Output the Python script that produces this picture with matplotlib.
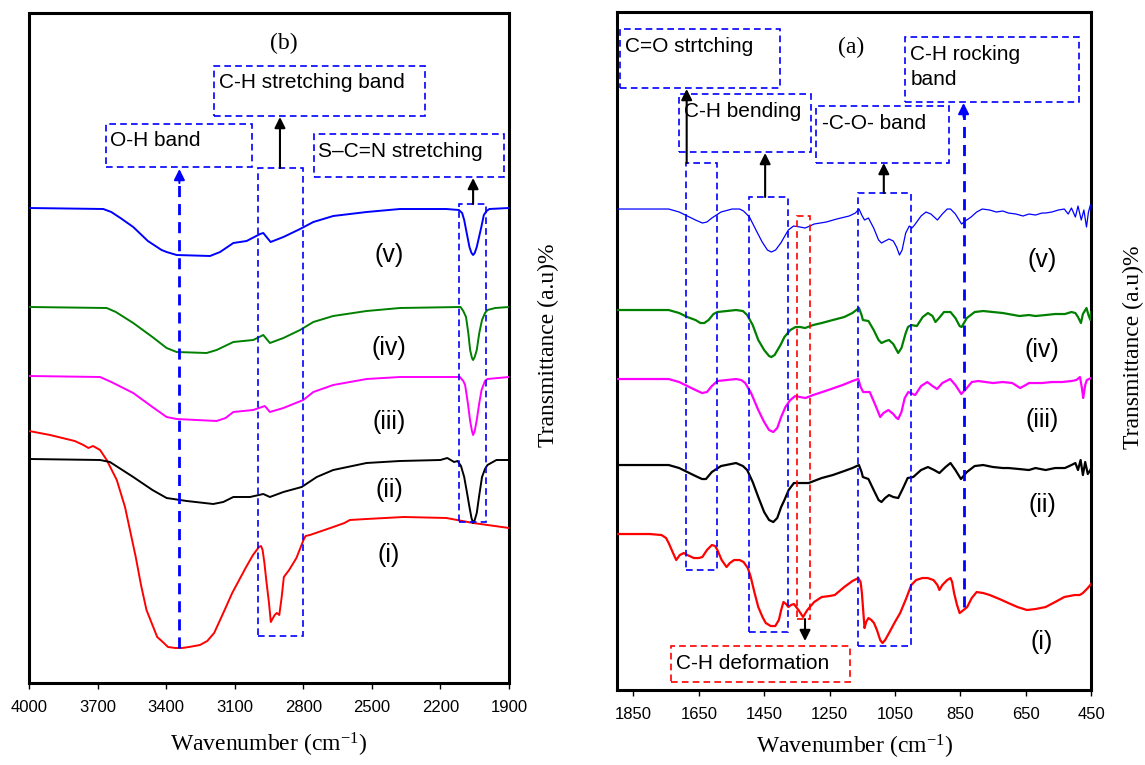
import matplotlib
matplotlib.use("Agg")
import matplotlib.pyplot as plt
from matplotlib.patches import Rectangle

# ---------------- data: panel (b), 4000-1900 cm-1 ----------------
b_v_wn = [4000, 3675, 3640, 3600, 3544, 3480, 3420, 3398, 3354, 3208, 3164, 3106, 3048, 2989, 2975, 2943, 2887,
          2814, 2756, 2669, 2523, 2377, 2174, 2119, 2105, 2096, 2085, 2073, 2064, 2057, 2050, 2041, 2030,
          2021, 2010, 1998, 1986, 1900]
b_v_t = [475, 474, 471, 465, 456, 442, 433, 431, 428, 427, 431, 440, 442, 449, 450, 441, 446,
         454, 461, 467, 471, 474, 474, 473, 470, 463, 450, 436, 430, 428, 430, 436, 447,
         456, 468, 472, 474, 475]

b_iv_wn = [4000, 3660, 3620, 3544, 3460, 3398, 3354, 3223, 3179, 3106, 3019, 2975, 2946, 2887, 2814, 2756,
           2669, 2523, 2377, 2112, 2100, 2088, 2078, 2070, 2062, 2057, 2050, 2041, 2030, 2018, 2005, 1994,
           1960, 1900]
b_iv_t = [376, 375, 371, 360, 346, 335, 331, 330, 333, 341, 343, 348, 340, 345, 353, 361,
          367, 372, 375, 376, 372, 366, 350, 333, 325, 323, 326, 333, 350, 363, 370, 373,
          375, 376]

b_iii_wn = [4000, 3689, 3640, 3544, 3460, 3398, 3354, 3179, 3140, 3106, 3019, 2968, 2946, 2887, 2800, 2756,
            2669, 2523, 2377, 2115, 2100, 2092, 2080, 2070, 2062, 2057, 2050, 2041, 2030, 2020, 2005, 1994,
            1900]
b_iii_t = [307, 306, 301, 290, 276, 266, 264, 262, 265, 271, 273, 277, 271, 275, 283, 291,
           298, 304, 306, 306, 302, 298, 280, 262, 252, 248, 252, 263, 280, 293, 302, 304,
           306]

b_ii_wn = [4000, 3689, 3646, 3544, 3460, 3398, 3310, 3194, 3150, 3106, 3033, 2975, 2946, 2887, 2807, 2741,
           2669, 2523, 2377, 2200, 2170, 2140, 2125, 2110, 2096, 2085, 2073, 2064, 2057, 2050, 2041, 2030,
           2018, 2005, 1994, 1955, 1900]
b_ii_t = [224, 223, 221, 206, 193, 185, 182, 179, 181, 186, 186, 189, 186, 191, 196, 206,
          213, 220, 222, 223, 225, 221, 222, 217, 206, 192, 176, 165, 160, 163, 170, 188,
          206, 214, 218, 223, 223]

b_i_wn = [4000, 3908, 3800, 3762, 3740, 3720, 3689, 3660, 3616, 3580, 3533, 3510, 3486, 3460, 3439, 3410,
          3392, 3360, 3330, 3300, 3252, 3220, 3190, 3150, 3111, 3050, 3020, 2994, 2985, 2978, 2970, 2962,
          2950, 2942, 2935, 2925, 2916, 2905, 2895, 2885, 2862, 2830, 2799, 2790, 2771, 2720, 2669, 2620,
          2596, 2523, 2361, 2174, 2057, 1900]
b_i_t = [252, 248, 242, 238, 235, 237, 233, 223, 203, 176, 126, 98, 73, 58, 46, 40,
         36, 35, 35, 36, 38, 42, 50, 70, 90, 116, 128, 136, 137, 133, 120, 103,
         80, 61, 64, 68, 70, 68, 85, 106, 113, 125, 143, 147, 148, 152, 156, 160,
         163, 164, 166, 165, 160, 155]

# ---------------- data: panel (a), 1900-450 cm-1 ----------------
a_v_wn = [1900, 1800, 1742, 1710, 1685, 1660, 1639, 1625, 1610, 1582, 1548, 1525, 1513, 1495, 1475, 1456,
          1440, 1428, 1415, 1399, 1385, 1376, 1360, 1340, 1325, 1310, 1297, 1260, 1228, 1190, 1171, 1160,
          1150, 1143, 1131, 1115, 1100, 1091, 1080, 1068, 1055, 1045, 1036, 1028, 1017, 1006, 998, 990,
          970, 955, 940, 920, 905, 890, 880, 865, 846, 835, 817, 800, 783, 760, 740, 720, 703, 680, 658,
          640, 620, 600, 589, 570, 550, 532, 520, 510, 498, 490, 480, 472, 464, 458, 452, 450]
a_v_t = [481, 481, 481, 478, 474, 470, 467, 468, 472, 478, 481, 481, 479, 473, 460, 448,
         440, 438, 440, 447, 455, 460, 464, 463, 462, 464, 466, 468, 471, 474, 477, 481,
         474, 470, 472, 462, 450, 447, 449, 451, 449, 443, 435, 440, 457, 464, 462, 465,
         474, 478, 476, 470, 476, 481, 481, 476, 466, 469, 473, 478, 481, 480, 478, 479, 477, 476, 474,
         476, 475, 477, 477, 478, 480, 481, 476, 482, 473, 484, 470, 480, 463, 478, 485, 480]

a_iv_wn = [1900, 1800, 1742, 1710, 1685, 1660, 1645, 1633, 1620, 1605, 1593, 1536, 1515, 1502, 1485, 1468,
           1450, 1435, 1428, 1418, 1400, 1388, 1370, 1354, 1340, 1325, 1300, 1274, 1240, 1205, 1180, 1160,
           1152, 1148, 1131, 1115, 1100, 1091, 1078, 1068, 1055, 1045, 1040, 1030, 1017, 1010, 1000, 983,
           965, 949, 935, 926, 915, 900, 880, 865, 852, 846, 830, 806, 780, 750, 720, 703, 669, 640, 620,
           589, 560, 530, 510, 498, 490, 481, 475, 464, 458, 452, 450]
a_iv_t = [380, 380, 380, 377, 373, 370, 367, 367, 370, 376, 378, 380, 379, 375, 365, 350,
          340, 334, 333, 335, 345, 353, 360, 363, 363, 362, 365, 367, 370, 373, 377, 382,
          375, 370, 369, 360, 350, 347, 349, 350, 346, 340, 337, 342, 357, 363, 365, 364,
          373, 377, 374, 368, 372, 378, 378, 372, 364, 363, 372, 378, 379, 378, 377, 376, 374, 375, 374,
          375, 376, 376, 378, 377, 373, 367, 376, 382, 375, 370, 378]

a_iii_wn = [1900, 1800, 1742, 1710, 1685, 1660, 1640, 1625, 1610, 1593, 1536, 1520, 1508, 1490, 1468, 1450,
            1435, 1422, 1410, 1398, 1385, 1370, 1355, 1340, 1324, 1300, 1254, 1210, 1180, 1162, 1155, 1147,
            1127, 1110, 1095, 1085, 1070, 1055, 1045, 1040, 1030, 1020, 1009, 988, 970, 951, 935, 921, 905,
            881, 865, 847, 830, 815, 795, 750, 720, 691, 667, 650, 640, 600, 570, 539, 510, 495, 484, 478,
            474, 468, 463, 450]
a_iii_t = [311, 311, 311, 308, 304, 300, 297, 298, 304, 309, 311, 310, 307, 297, 280, 268,
           260, 258, 262, 273, 283, 290, 294, 293, 292, 295, 300, 305, 309, 311, 303, 298,
           298, 285, 273, 277, 280, 276, 272, 271, 278, 292, 298, 295, 304, 308, 304, 301, 307,
           311, 305, 296, 302, 308, 309, 307, 308, 307, 302, 305, 307, 307, 308, 308, 309, 310, 313, 302,
           292, 305, 310, 312]

a_ii_wn = [1900, 1800, 1742, 1710, 1685, 1660, 1640, 1628, 1610, 1582, 1536, 1515, 1502, 1485, 1468, 1450,
           1435, 1422, 1410, 1398, 1388, 1375, 1359, 1340, 1314, 1274, 1240, 1205, 1180, 1160, 1152, 1148,
           1131, 1115, 1100, 1091, 1080, 1068, 1055, 1040, 1025, 1011, 994, 970, 949, 930, 914, 895, 880,
           865, 848, 830, 806, 780, 750, 720, 703, 670, 640, 620, 589, 560, 530, 510, 498, 490, 482, 475,
           468, 460, 452, 450]
a_ii_t = [225, 225, 225, 222, 218, 214, 211, 211, 218, 224, 227, 224, 220, 208, 193, 178,
          170, 168, 172, 183, 190, 200, 207, 207, 207, 212, 215, 219, 222, 225, 218, 213,
          211, 200, 190, 188, 192, 195, 193, 192, 202, 212, 213, 220, 223, 220, 217, 223, 227,
          220, 211, 218, 224, 225, 223, 222, 222, 221, 220, 222, 220, 222, 222, 225, 227, 220, 230, 215,
          228, 216, 220, 222]

a_i_wn = [1900, 1800, 1764, 1750, 1742, 1730, 1719, 1708, 1696, 1685, 1665, 1650, 1639, 1625, 1610, 1600,
          1593, 1580, 1565, 1555, 1542, 1525, 1513, 1500, 1491, 1480, 1468, 1455, 1445, 1430, 1416, 1405,
          1398, 1391, 1383, 1376, 1368, 1359, 1345, 1331, 1318, 1297, 1274, 1250, 1234, 1205, 1180, 1162,
          1155, 1151, 1146, 1143, 1138, 1131, 1122, 1114, 1105, 1095, 1088, 1080, 1068, 1050, 1034, 1015,
          1000, 985, 966, 950, 932, 920, 914, 905, 890, 880, 875, 869, 860, 852, 840, 829, 815, 800, 780,
          760, 730, 703, 675, 646, 620, 589, 560, 532, 500, 485, 475, 460, 450]
a_i_t = [156, 156, 155, 152, 147, 138, 130, 135, 137, 135, 132, 132, 133, 140, 145, 144,
         140, 130, 123, 127, 130, 130, 128, 122, 113, 98, 83, 73, 67, 64, 64, 70,
         80, 88, 86, 83, 85, 86, 80, 73, 80, 88, 93, 94, 95, 103, 109, 112,
         108, 97, 75, 62, 68, 72, 70, 67, 60, 50, 47, 50, 57, 68, 77, 92,
         105, 110, 112, 112, 110, 105, 100, 105, 110, 112, 108, 97, 85, 77, 80, 83, 92, 98, 97,
         95, 91, 87, 83, 80, 81, 83, 88, 93, 95, 95, 97, 102, 106]

labels = ["(i)", "(ii)", "(iii)", "(iv)", "(v)"]
colors = ["#ff0000", "#000000", "#ff00ff", "#008000", "#0000ff"]

b_ticks = [4000, 3700, 3400, 3100, 2800, 2500, 2200, 1900]
a_ticks = [1850, 1650, 1450, 1250, 1050, 850, 650, 450]

SANS = ["Liberation Sans", "DejaVu Sans"]
SERIF = ["Liberation Serif", "DejaVu Serif"]
plt.rcParams["font.family"] = SANS
plt.rcParams["mathtext.fontset"] = "custom"
plt.rcParams["mathtext.rm"] = "Liberation Serif"
plt.rcParams["mathtext.it"] = "Liberation Serif:italic"
plt.rcParams["mathtext.bf"] = "Liberation Serif:bold"
plt.rcParams["mathtext.default"] = "regular"

fig = plt.figure(figsize=(11.45, 7.65), dpi=100)
axb = fig.add_axes([0.02533, 0.1072, 0.4192, 0.8758])
axa = fig.add_axes([0.5389, 0.0980, 0.4140, 0.8863])

BLUE = "#0000ff"
DASH = (0, (4, 2.5))


def style(ax, xlim, ylim, ticks, labelpad):
    ax.set_xlim(*xlim)
    ax.set_ylim(*ylim)
    ax.set_xticks(ticks)
    ax.set_xticklabels([str(t) for t in ticks], fontsize=12, family=SANS)
    ax.set_yticks([])
    for s in ax.spines.values():
        s.set_linewidth(2.2)
    ax.tick_params(axis="x", direction="out", length=4, width=1, pad=8)
    ax.set_xlabel("Wavenumber (cm$^{-1}$)", fontsize=17, family=SERIF, labelpad=labelpad)


def dbox(ax, x0, x1, y0, y1, color=BLUE, lw=1.2):
    ax.add_patch(Rectangle((x0, y0), x1 - x0, y1 - y0, fill=False, edgecolor=color,
                           linewidth=lw, linestyle=DASH, zorder=4))


def tbox(ax, x0, x1, y0, y1, text, tx, ty, color=BLUE, linespacing=1.2):
    dbox(ax, x0, x1, y0, y1, color=color)
    ax.text(tx, ty, text, fontsize=15, family=SANS, ha="left", va="center", zorder=5,
            linespacing=linespacing)


def karrow(ax, x, y0, y1, color="k"):
    ax.annotate("", xy=(x, y1), xytext=(x, y0),
                arrowprops=dict(arrowstyle="-|>", color=color, lw=1.5, mutation_scale=16,
                                shrinkA=0, shrinkB=0), zorder=5)


def blue_dashed_arrow(ax, x, y0, y1, span):
    ax.plot([x, x], [y0, y1 - span * 0.5], color=BLUE, lw=2, linestyle=(0, (4, 2.5)), zorder=4)
    ax.annotate("", xy=(x, y1), xytext=(x, y1 - span),
                arrowprops=dict(arrowstyle="-|>", color=BLUE, lw=1.5, mutation_scale=16,
                                shrinkA=0, shrinkB=0), zorder=5)


# ---------------- panel (b) ----------------
b_series = [(b_i_wn, b_i_t), (b_ii_wn, b_ii_t), (b_iii_wn, b_iii_t), (b_iv_wn, b_iv_t), (b_v_wn, b_v_t)]
for (wn, t), c in zip(b_series, colors):
    axb.plot(wn, t, color=c, lw=1.4, zorder=3)
style(axb, (4000, 1900), (0, 670), b_ticks, 12)

b_label_y = [128, 193, 261, 335, 428]
for lab, y in zip(labels, b_label_y):
    axb.text(2425, y, lab, fontsize=18, family=SANS, ha="center", va="center")

axb.text(2884, 640, "(b)", fontsize=17, family=SERIF, ha="center", va="center")
tbox(axb, 3191, 2268, 567, 617, "C-H stretching band", 3169, 601)
tbox(axb, 3663, 3024, 516, 559, "O-H band", 3646, 543)
tbox(axb, 2753, 1922, 506, 549, "S\u2013C=N stretching", 2736, 532)
karrow(axb, 2902, 515, 566)
karrow(axb, 2057, 479, 505)
dbox(axb, 3000, 2800, 47, 515)
dbox(axb, 2120, 2000, 161, 479)
blue_dashed_arrow(axb, 3342, 35, 514, 14)

# ---------------- panel (a) ----------------
a_series = [(a_i_wn, a_i_t), (a_ii_wn, a_ii_t), (a_iii_wn, a_iii_t), (a_iv_wn, a_iv_t), (a_v_wn, a_v_t)]
a_lw = [1.6, 1.6, 1.6, 1.6, 0.9]
for (wn, t), c, lw in zip(a_series, colors, a_lw):
    axa.plot(wn, t, color=c, lw=lw, zorder=3)
style(axa, (1900, 450), (0, 678), a_ticks, 8)

a_label_y = [48, 185, 270, 340, 430]
for lab, y in zip(labels, a_label_y):
    axa.text(600, y, lab, fontsize=18, family=SANS, ha="center", va="center")

axa.text(1183, 643, "(a)", fontsize=17, family=SERIF, ha="center", va="center")
tbox(axa, 1892, 1402, 602, 661, "C=O strtching", 1876, 644)
tbox(axa, 1020, 487, 588, 653, "C-H rocking\nband", 1003, 623, linespacing=1.35)
tbox(axa, 1710, 1306, 538, 596, "C-H bending", 1694, 579)
tbox(axa, 1291, 886, 527, 584, "-C-O- band", 1274, 567)
tbox(axa, 1736, 1188, 8, 44, "C-H deformation", 1719, 27, color="#ff0000")

dbox(axa, 1690, 1595, 120, 527)
dbox(axa, 1495, 1378, 58, 493)
dbox(axa, 1350, 1310, 71, 474, color="#ff0000")
dbox(axa, 1162, 1000, 44, 497)
karrow(axa, 1687, 527, 601)
karrow(axa, 1447, 493, 537)
karrow(axa, 1084, 497, 527)
karrow(axa, 1325, 71, 49)
blue_dashed_arrow(axa, 840, 83, 587, 14)

fig.text(548 / 1145, 1 - 345 / 765, "Transmittance (a.u)%", rotation=90, fontsize=17,
         family=SERIF, ha="center", va="center")
fig.text(1133 / 1145, 1 - 347 / 765, "Transmittance (a.u)%", rotation=90, fontsize=17,
         family=SERIF, ha="center", va="center")

fig.savefig("out.png", dpi=100)
